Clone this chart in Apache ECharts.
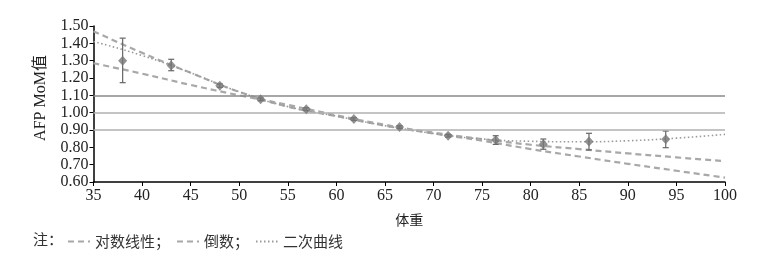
<!DOCTYPE html>
<html>
<head>
<meta charset="utf-8">
<script src="https://cdn.jsdelivr.net/npm/echarts@6/dist/echarts.min.js"></script>
<style>
html,body{margin:0;padding:0;background:#fff;}
#c{width:777px;height:255px;}
</style>
</head>
<body>
<div id="c"></div>
<script>
// Observed data points (weight group, AFP MoM median, error range)
const weights = [38, 43, 48, 52.2, 56.9, 61.8, 66.5, 71.5, 76.4, 81.3, 86.0, 93.9];
const mom     = [1.30, 1.272, 1.156, 1.077, 1.02, 0.963, 0.917, 0.867, 0.843, 0.818, 0.833, 0.846];
const errLow  = [1.173, 1.242, 1.146, 1.069, 1.012, 0.955, 0.909, 0.859, 0.817, 0.789, 0.785, 0.798];
const errHigh = [1.43, 1.308, 1.166, 1.085, 1.028, 0.971, 0.925, 0.875, 0.867, 0.848, 0.881, 0.894];

// Fitted curves
const curveX      = [35, 40, 45, 50, 55, 60, 65, 70, 75, 80, 85, 90, 95, 100];
const logLinear   = [1.47, 1.345, 1.23, 1.12, 1.035, 0.98, 0.925, 0.88, 0.838, 0.79, 0.747, 0.705, 0.665, 0.625];
const reciprocal  = [1.285, 1.225, 1.16, 1.10, 1.045, 0.985, 0.93, 0.885, 0.848, 0.815, 0.79, 0.765, 0.742, 0.72];
const quadratic   = [1.41, 1.33, 1.23, 1.12, 1.035, 0.98, 0.925, 0.88, 0.848, 0.835, 0.832, 0.838, 0.853, 0.875];

// Reference horizontal lines
const refLines = [1.10, 1.00, 0.90];
const refColors = ['#8a8a8a', '#b0b0b0', '#b0b0b0'];

const yTicks = {min: 0.6, max: 1.5, interval: 0.1};
const xTicks = {min: 35, max: 100, interval: 5};

const seriesNames = ['对数线性', '倒数', '二次曲线'];

const pairs = (xs, ys) => xs.map((x, i) => [x, ys[i]]);
const serif = '"Liberation Serif", "Times New Roman", serif';
const cjk = '"Noto Sans CJK SC", sans-serif';

const chart = echarts.init(document.getElementById('c'), null, {renderer: 'canvas'});
chart.setOption({
  animation: false,
  backgroundColor: '#fff',
  grid: {left: 93.5, right: 52, top: 26, bottom: 73, containLabel: false},
  xAxis: {
    type: 'value', min: xTicks.min, max: xTicks.max, interval: xTicks.interval,
    name: '体重', nameLocation: 'middle', nameGap: 31,
    nameTextStyle: {fontFamily: cjk, fontSize: 14, color: '#222'},
    axisLine: {lineStyle: {color: '#000', width: 1.5}},
    axisTick: {inside: false, length: 4, lineStyle: {color: '#000', width: 1}},
    axisLabel: {fontFamily: serif, fontSize: 16, color: '#222', margin: 6},
    splitLine: {show: false}
  },
  yAxis: {
    type: 'value', min: yTicks.min, max: yTicks.max, interval: yTicks.interval,
    axisLine: {show: true, lineStyle: {color: '#000', width: 1.5}},
    axisTick: {show: true, inside: false, length: 4, lineStyle: {color: '#000', width: 1}},
    axisLabel: {fontFamily: serif, fontSize: 16, color: '#222', margin: 5,
      formatter: v => v.toFixed(2)},
    splitLine: {show: false}
  },
  legend: {
    left: 62, top: 229, itemWidth: 22, itemHeight: 10, itemGap: 6,
    data: seriesNames,
    itemStyle: {opacity: 0},
    formatter: n => n === '二次曲线' ? n : n + '；',
    textStyle: {fontFamily: cjk, fontSize: 15, color: '#333'}
  },
  graphic: [
    {type: 'text', left: 33, top: 232, style: {text: '注：', font: '15px "Noto Sans CJK SC"', fill: '#333'}},
    {type: 'text', x: 41, y: 98, rotation: Math.PI / 2, style: {
      text: 'AFP MoM值', font: '16px "Liberation Serif", "Noto Sans CJK SC"', fill: '#222',
      align: 'center', verticalAlign: 'middle'}}
  ],
  series: [
    {
      type: 'line', name: '__ref', data: [], silent: true,
      markLine: {
        silent: true, symbol: 'none', label: {show: false},
        data: refLines.map((v, i) => ({yAxis: v, lineStyle: {color: refColors[i], width: 1.5, type: 'solid'}}))
      }
    },
    {
      name: seriesNames[0], type: 'line', data: pairs(curveX, logLinear), smooth: true,
      symbol: 'none', lineStyle: {color: '#a8a8a8', width: 2.2, type: [6, 4]}, itemStyle: {color: '#a8a8a8'}, z: 3
    },
    {
      name: seriesNames[1], type: 'line', data: pairs(curveX, reciprocal), smooth: true,
      symbol: 'none', lineStyle: {color: '#a8a8a8', width: 2.2, type: [6, 4]}, itemStyle: {color: '#a8a8a8'}, z: 3
    },
    {
      name: seriesNames[2], type: 'line', data: pairs(curveX, quadratic), smooth: true,
      symbol: 'none', lineStyle: {color: '#9a9a9a', width: 1.6, type: [1.5, 2.5]}, itemStyle: {color: '#9a9a9a'}, z: 3
    },
    {
      type: 'custom', name: '__err', z: 4,
      data: weights.map((w, i) => [w, errLow[i], errHigh[i]]),
      renderItem: (params, api) => {
        const x = api.value(0);
        const top = api.coord([x, api.value(2)]);
        const bot = api.coord([x, api.value(1)]);
        const w = 3;
        const st = {stroke: '#666', lineWidth: 1.2};
        return {type: 'group', children: [
          {type: 'line', shape: {x1: top[0], y1: top[1], x2: bot[0], y2: bot[1]}, style: st},
          {type: 'line', shape: {x1: top[0] - w, y1: top[1], x2: top[0] + w, y2: top[1]}, style: st},
          {type: 'line', shape: {x1: bot[0] - w, y1: bot[1], x2: bot[0] + w, y2: bot[1]}, style: st}
        ]};
      }
    },
    {
      type: 'scatter', name: '__pts', data: pairs(weights, mom), symbol: 'diamond', symbolSize: [9, 10],
      itemStyle: {color: '#777'}, z: 5
    }
  ]
});
</script>
</body>
</html>
